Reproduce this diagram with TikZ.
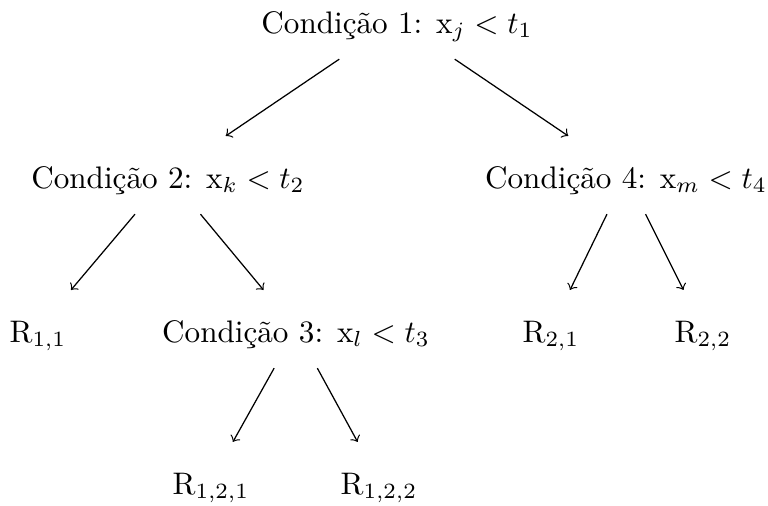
\documentclass[tikz,border=0pt]{standalone}
\begin{document}
\begin{tikzpicture}[x=0.321pt,y=-0.321pt,
  lbl/.style={anchor=base, inner xsep=5pt, inner ysep=0pt, text height=16.5pt, text depth=8.2pt},
  arr/.style={->}]
\useasboundingbox (0,0) rectangle (768,506);
\node[lbl] (root) at (397,33) {Condição 1: $\mathrm{x}_j < t_1$};
\node[lbl] (c2) at (168,188) {Condição 2: $\mathrm{x}_k < t_2$};
\node[lbl] (c4) at (626,188) {Condição 4: $\mathrm{x}_m < t_4$};
\node[lbl] (r11) at (38,342) {R$_{1,1}$};
\node[lbl] (c3) at (296,342) {Condição 3: $\mathrm{x}_l < t_3$};
\node[lbl] (r21) at (551,342) {R$_{2,1}$};
\node[lbl] (r22) at (703,342) {R$_{2,2}$};
\node[lbl] (r121) at (211,494) {R$_{1,2,1}$};
\node[lbl] (r122) at (379,494) {R$_{1,2,2}$};
\draw[arr] (root) -- (c2);
\draw[arr] (root) -- (c4);
\draw[arr] (c2) -- (r11);
\draw[arr] (c2) -- (c3);
\draw[arr] (c4) -- (r21);
\draw[arr] (c4) -- (r22);
\draw[arr] (c3) -- (r121);
\draw[arr] (c3) -- (r122);
\end{tikzpicture}
\end{document}
